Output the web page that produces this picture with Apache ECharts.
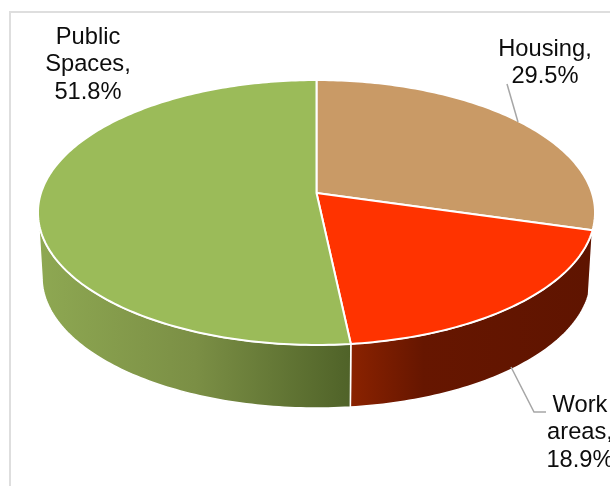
<!DOCTYPE html>
<html>
<head>
<meta charset="utf-8">
<style>html,body{margin:0;padding:0;background:#fff;overflow:hidden}#c{width:610px;height:486px}</style>
<script src="https://cdn.jsdelivr.net/npm/echarts@6/dist/echarts.min.js"></script>
</head>
<body>
<div id="c"></div>
<script>
// Data
const categories = ['Housing', 'Work areas', 'Public Spaces'];
const shares = [29.5, 18.9, 51.8];
const labelNames = [['Housing,'], ['Work', 'areas,'], ['Public', 'Spaces,']];

// Style
const topColors = ['#C99A66', '#FF3300', '#9BBB59'];
const wallStops = [
  null,
  [[0, '#8A2200'], [0.3, '#661600'], [1, '#5F1400']],
  [[0, '#8EA852'], [0.5, '#7B8F45'], [1, '#4F6228']]
];
const wallRange = [null, [352, 590], [38, 352]];

// Layout: perspective projection of the disc
const cx = 316.5, k = -0.147;
const topFace = { A: 275.5, B: 129.6, C: 193 };
const baseFace = { A: 271.5, B: 128, C: 258 };
const edgeStart = 98.5, edgeEnd = 261.5;
const labelPos = [[545, 48], [580, 404], [88, 36]];
const lineH = 27.5;
const leaders = [
  [[507, 84], [518, 122]],
  [[511, 367], [534, 412], [546, 412]],
  null
];

function project(f, deg) {
  const t = deg * Math.PI / 180, sx = Math.sin(t), sy = -Math.cos(t), w = 1 + k * sy;
  return [cx + f.A * sx / w, f.C + f.B * sy / w];
}
function arc(f, a, b) {
  const n = Math.max(2, Math.ceil(Math.abs(b - a))), pts = [];
  for (let i = 0; i <= n; i++) pts.push(project(f, a + (b - a) * i / n));
  return pts;
}
const total = shares.reduce((s, v) => s + v, 0);
function sliceAngles(i) {
  let s = 0;
  for (let j = 0; j < i; j++) s += shares[j];
  return [s / total * 360, (s + shares[i]) / total * 360];
}

const chart = echarts.init(document.getElementById('c'), null, { renderer: 'canvas' });
const seriesData = shares.map((v, i) => ({ name: categories[i], value: [i, v] }));
const font = 'Liberation Sans';

chart.setOption({
  animation: false,
  backgroundColor: '#fff',
  graphic: [{
    type: 'polyline', silent: true, z: 0,
    shape: { points: [[10, 486], [10, 12], [610, 12]] },
    style: { stroke: '#DEDEDE', lineWidth: 2, fill: null }
  }],
  series: [
    {
      type: 'custom', coordinateSystem: 'none', z: 2, silent: true, data: seriesData,
      renderItem(p, api) {
        const i = api.value(0);
        if (!wallStops[i]) return { type: 'group', children: [] };
        const [a0, b0] = sliceAngles(i);
        const a = i === 1 ? a0 : Math.max(a0, edgeStart), b = Math.min(b0, edgeEnd);
        const points = arc(topFace, a, b).concat(arc(baseFace, a, b).reverse());
        return {
          type: 'polygon', shape: { points },
          style: {
            fill: { type: 'linear', global: true, x: wallRange[i][0], y: 0, x2: wallRange[i][1], y2: 0,
              colorStops: wallStops[i].map(s => ({ offset: s[0], color: s[1] })) },
            stroke: '#fff', lineWidth: 1.5, lineJoin: 'round'
          }
        };
      }
    },
    {
      type: 'custom', coordinateSystem: 'none', z: 3, silent: true, data: seriesData,
      renderItem(p, api) {
        const i = api.value(0);
        const [a, b] = sliceAngles(i);
        const points = [[cx, topFace.C]].concat(arc(topFace, a, b));
        return {
          type: 'polygon', shape: { points },
          style: { fill: topColors[i], stroke: '#fff', lineWidth: 2, lineJoin: 'round' }
        };
      }
    },
    {
      type: 'custom', coordinateSystem: 'none', z: 4, silent: true, data: seriesData,
      renderItem(p, api) {
        const i = api.value(0);
        const lines = labelNames[i].concat([api.value(1).toFixed(1) + '%']);
        const children = lines.map((t, n) => ({
          type: 'text',
          style: {
            x: labelPos[i][0], y: labelPos[i][1] + 1 + n * lineH, text: t,
            textAlign: 'center', textVerticalAlign: 'middle',
            font: '23.7px "' + font + '"', fill: '#0D0D0D'
          }
        }));
        if (leaders[i]) children.push({
          type: 'polyline', shape: { points: leaders[i] },
          style: { stroke: '#A6A6A6', lineWidth: 1.5, fill: null }
        });
        return { type: 'group', children };
      }
    }
  ]
});
</script>
</body>
</html>
